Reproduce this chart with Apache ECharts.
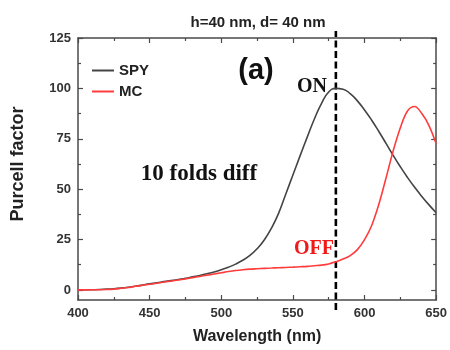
<!DOCTYPE html>
<html>
<head>
<meta charset="utf-8">
<script src="https://cdn.jsdelivr.net/npm/echarts@6/dist/echarts.min.js"></script>
<style>
  html, body { margin: 0; padding: 0; background: #ffffff; }
  #chart { width: 450px; height: 350px; }
</style>
</head>
<body>
<div id="chart"></div>
<script>
// Wavelength samples (nm), 5 nm step
const wavelengths = [
  400, 405, 410, 415, 420, 425, 430, 435, 440, 445,
  450, 455, 460, 465, 470, 475, 480, 485, 490, 495,
  500, 505, 510, 515, 520, 525, 530, 535, 540, 545,
  550, 555, 560, 565, 570, 575, 580, 585, 590, 595,
  600, 605, 610, 615, 620, 625, 630, 635, 640, 645, 650
];

// Purcell factor, SPY structure
const spyValues = [
  0, 0.05, 0.1, 0.2, 0.4, 0.6, 0.9, 1.3, 1.8, 2.4,
  3.0, 3.5, 4.1, 4.6, 5.2, 5.8, 6.5, 7.2, 8.0, 8.9,
  10.0, 11.3, 12.8, 14.7, 17.1, 20.4, 24.8, 30.6, 38.0, 47.5,
  57.0, 66.5, 75.8, 84.8, 92.6, 98.2, 100.0, 99.6, 97.4, 93.8,
  89.3, 84.2, 78.6, 72.7, 66.8, 61.1, 55.8, 50.9, 46.4, 42.2, 38.3
];

// Purcell factor, MC structure
const mcValues = [
  0, 0.02, 0.05, 0.1, 0.2, 0.4, 0.8, 1.2, 1.8, 2.3,
  2.8, 3.3, 3.9, 4.4, 4.9, 5.5, 6.1, 6.7, 7.3, 7.9,
  8.5, 9.1, 9.6, 10.0, 10.3, 10.5, 10.7, 10.85, 11.0, 11.15,
  11.3, 11.5, 11.7, 12.0, 12.3, 12.9, 14.0, 15.3, 17.0, 20.0,
  25.0, 32.0, 42.5, 55.5, 69.0, 80.5, 88.8, 91.0, 87.5, 81.5, 72.5
];

const seriesNames = ['SPY', 'MC'];

// Axis ticks
const xTicks = [400, 450, 500, 550, 600, 650];
const yTicks = [0, 25, 50, 75, 100, 125];
const yMinorTicks = [12.5, 37.5, 62.5, 87.5, 112.5];

// Operating wavelength marker and its vertical span (in data units)
const markerWavelength = 580;
const markerSpan = [-10, 128.5];

const AXIS_COLOR = '#4a4a4a';
const LABEL_COLOR = '#333333';
const SANS = '"Liberation Sans", Arial, sans-serif';
const SERIF = '"Liberation Serif", "Times New Roman", serif';

const spyData = wavelengths.map((w, i) => [w, spyValues[i]]);
const mcData = wavelengths.map((w, i) => [w, mcValues[i]]);

const chart = echarts.init(document.getElementById('chart'), null, { renderer: 'canvas' });

const axisLineStyle = { color: AXIS_COLOR, width: 1.5 };

function xAxisDef(position, showLabels) {
  return {
    type: 'value',
    position: position,
    min: xTicks[0],
    max: xTicks[xTicks.length - 1],
    interval: 50,
    name: showLabels ? 'Wavelength (nm)' : '',
    nameLocation: 'middle',
    nameGap: 29,
    nameTextStyle: { fontFamily: SANS, fontWeight: 'bold', fontSize: 16, color: '#222' },
    axisLine: { show: true, onZero: false, lineStyle: axisLineStyle },
    axisTick: { show: true, inside: true, length: 5, lineStyle: { color: AXIS_COLOR, width: 1.2 } },
    minorTick: { show: true, splitNumber: 2, length: 3, lineStyle: { color: AXIS_COLOR, width: 1.2 } },
    axisLabel: { show: showLabels, margin: 7, fontFamily: SANS, fontWeight: 'bold', fontSize: 13, color: LABEL_COLOR },
    splitLine: { show: false }
  };
}

function yAxisDef(position, showLabels, ticks, tickLen, showLine) {
  return {
    type: 'value',
    position: position,
    min: -5,
    max: 125,
    name: showLabels ? 'Purcell factor' : '',
    nameLocation: 'middle',
    nameGap: 51,
    nameTextStyle: { fontFamily: SANS, fontWeight: 'bold', fontSize: 18, color: '#222', padding: [0, 0, 0, 10] },
    axisLine: { show: showLine, onZero: false, lineStyle: axisLineStyle },
    axisTick: { show: true, inside: true, length: tickLen, customValues: ticks, lineStyle: { color: AXIS_COLOR, width: 1.2 } },
    axisLabel: { show: showLabels, customValues: ticks, margin: 7, fontFamily: SANS, fontWeight: 'bold', fontSize: 13, color: LABEL_COLOR },
    splitLine: { show: false }
  };
}

const option = {
  backgroundColor: '#ffffff',
  animation: false,
  grid: { left: 78, right: 11, top: 38, bottom: 47 },
  xAxis: [xAxisDef('bottom', true), xAxisDef('top', false)],
  yAxis: [
    yAxisDef('left', true, yTicks, 5, true),
    yAxisDef('right', false, yTicks, 5, true),
    yAxisDef('left', false, yMinorTicks, 3, false),
    yAxisDef('right', false, yMinorTicks, 3, false)
  ],
  legend: {
    orient: 'vertical',
    left: 92,
    top: 63,
    padding: 0,
    itemGap: 6,
    itemWidth: 22,
    itemHeight: 2,
    icon: 'rect',
    textStyle: { fontFamily: SANS, fontWeight: 'bold', fontSize: 15, color: '#222' },
    data: seriesNames
  },
  series: [
    {
      name: seriesNames[0],
      type: 'line',
      data: spyData,
      showSymbol: false,
      symbol: 'none',
      smooth: 0.5,
      lineStyle: { color: '#444444', width: 1.6 },
      itemStyle: { color: '#444444' }
    },
    {
      name: seriesNames[1],
      type: 'line',
      data: mcData,
      showSymbol: false,
      symbol: 'none',
      smooth: 0.35,
      lineStyle: { color: '#ff3c3c', width: 1.6 },
      itemStyle: { color: '#ff3c3c' }
    },
    {
      // dashed vertical marker at the operating wavelength
      type: 'custom',
      clip: false,
      silent: true,
      data: [[markerWavelength]],
      renderItem: function (params, api) {
        const x = api.value(0);
        const p1 = api.coord([x, markerSpan[0]]);
        const p2 = api.coord([x, markerSpan[1]]);
        return {
          type: 'line',
          shape: { x1: p1[0], y1: p1[1], x2: p2[0], y2: p2[1] },
          style: { stroke: '#000000', lineWidth: 2.6, lineDash: [7, 3.5] }
        };
      }
    }
  ],
  graphic: [
    {
      type: 'text', x: 258, y: 23,
      style: { text: 'h=40 nm, d= 40 nm', fontFamily: SANS, fontWeight: 'bold', fontSize: 15, fill: '#222', align: 'center', verticalAlign: 'middle' }
    },
    {
      type: 'text', x: 256, y: 71,
      style: { text: '(a)', fontFamily: SANS, fontWeight: 'bold', fontSize: 29, fill: '#111', align: 'center', verticalAlign: 'middle' }
    },
    {
      type: 'text', x: 312, y: 87,
      style: { text: 'ON', fontFamily: SERIF, fontWeight: 'bold', fontSize: 20, fill: '#111', align: 'center', verticalAlign: 'middle' }
    },
    {
      type: 'text', x: 199, y: 174,
      style: { text: '10 folds diff', fontFamily: SERIF, fontWeight: 'bold', fontSize: 23, fill: '#111', align: 'center', verticalAlign: 'middle' }
    },
    {
      type: 'text', x: 314, y: 249,
      style: { text: 'OFF', fontFamily: SERIF, fontWeight: 'bold', fontSize: 20, fill: '#f01818', align: 'center', verticalAlign: 'middle' }
    }
  ]
};

chart.setOption(option);
</script>
</body>
</html>
